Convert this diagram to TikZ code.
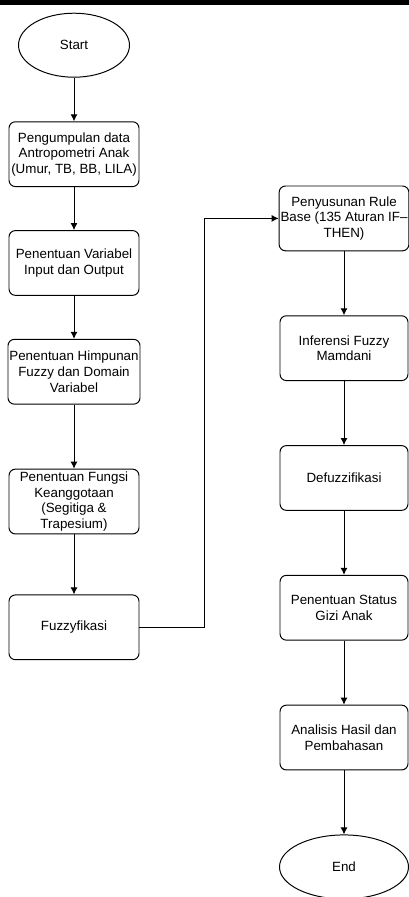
\documentclass[tikz,border=0pt]{standalone}
\usepackage{fontspec}
\setmainfont{Liberation Sans}
\usetikzlibrary{
arrows.meta,
calc,
positioning,
shapes.geometric
}
\tikzset{>={Latex[length=5pt,width=5pt]}}

\begin{document}
\begin{tikzpicture}[node distance=1.6cm,auto,line width=0.7pt,
	every node/.style={font=\fontsize{9.5}{11.1}\selectfont},
	process/.style={draw,rounded corners=0.16cm,align=center,minimum height=1.62cm,inner sep=1pt},
	terminal/.style={draw,ellipse,minimum height=1.6cm,inner sep=0pt}]
		% frame
		\useasboundingbox (0,0) rectangle (10.225,-22.425);
		\fill (0,0) rectangle (10.225,-0.13);
		% left column
		\node[terminal,minimum width=2.775cm] at (1.85,-1.13) (start) {Start};
		\node[process,minimum width=3.25cm,below=1.09cm of start] (collect) {Pengumpulan data\\Antropometri Anak\\(Umur, TB, BB, LILA)};
		\node[process,minimum width=3.25cm,below=1.075cm of collect] (vars) {Penentuan Variabel\\Input dan Output};
		\node[process,minimum width=3.25cm,below=1.075cm of vars] (sets) {Penentuan Himpunan\\Fuzzy dan Domain\\Variabel};
		\node[process,minimum width=3.25cm,below=1.6cm of sets] (member) {Penentuan Fungsi\\Keanggotaan\\(Segitiga \&\\Trapesium)};
		\node[process,minimum width=3.25cm,below=1.5cm of member] (fuzzy) {Fuzzyfikasi};
		% right column
		\node[process,minimum width=3.2cm] at (8.6,-5.46) (rulebase) {Penyusunan Rule\\Base (135 Aturan IF–\\THEN)};
		\node[process,minimum width=3.2cm,below=of rulebase] (infer) {Inferensi Fuzzy\\Mamdani};
		\node[process,minimum width=3.2cm,below=of infer] (defuzz) {Defuzzifikasi};
		\node[process,minimum width=3.2cm,below=of defuzz] (status) {Penentuan Status\\Gizi Anak};
		\node[process,minimum width=3.2cm,below=of status] (analysis) {Analisis Hasil dan\\Pembahasan};
		\node[terminal,minimum width=3.225cm,below=of analysis] (end) {End};

		\draw[->] (start) -- (collect);
		\draw[->] (collect) -- (vars);
		\draw[->] (vars) -- (sets);
		\draw[->] (sets) -- (member);
		\draw[->] (member) -- (fuzzy);
		\draw[->] (fuzzy.east) -- ++(1.625,0) |- (rulebase.west);
		\draw[->] (rulebase) -- (infer);
		\draw[->] (infer) -- (defuzz);
		\draw[->] (defuzz) -- (status);
		\draw[->] (status) -- (analysis);
		\draw[->] (analysis) -- (end);
\end{tikzpicture}
\end{document}
